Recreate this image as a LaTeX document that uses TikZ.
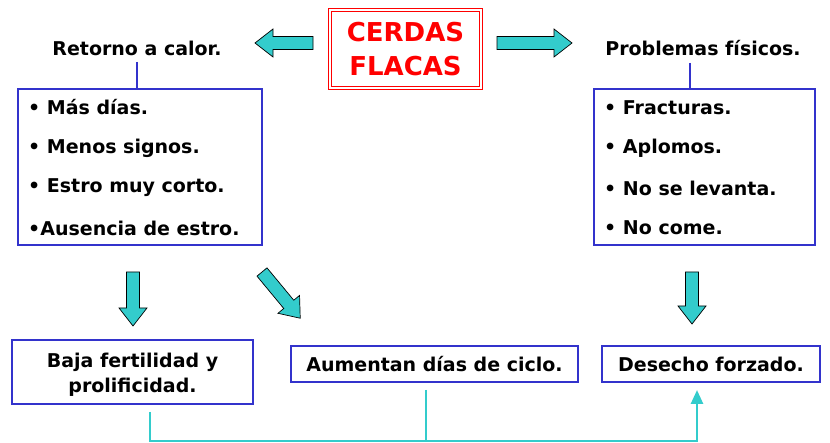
\documentclass[tikz,border=0pt]{standalone}
\usepackage{fontspec}
\setmainfont{DejaVu Sans}
\usetikzlibrary{arrows.meta}
\definecolor{bblue}{HTML}{3333CC}
\definecolor{rred}{HTML}{FF0000}
\definecolor{tteal}{HTML}{33CCCC}
\newcommand\blockarrow[4]{% name, tail point, angle, length
  \begin{scope}[shift={#2}, rotate=#3]
    \draw[barrow] (0,-6.5) -- ({#4-18},-6.5) -- ({#4-18},-14) -- (#4,0) -- ({#4-18},14) -- ({#4-18},6.5) -- (0,6.5) -- cycle;
    \coordinate (#1) at (#4,0);
  \end{scope}}
\begin{document}
\begin{tikzpicture}[x=1pt,y=-1pt,
  txt/.style={font=\bfseries\fontsize{19}{23}\selectfont, inner sep=0pt, text=black},
  box/.style={draw=bblue, line width=2pt, inner sep=0pt},
  barrow/.style={fill=tteal, draw=black, line width=0.7pt},
  link/.style={draw=bblue, line width=2pt},
  conn/.style={draw=tteal, line width=2.6pt}]
\useasboundingbox[fill=white] (0,0) rectangle (830,443);

% title
\node[draw=rred, line width=1pt, double=white, double distance=2pt,
      minimum width=151pt, minimum height=78pt, align=center,
      text=rred, font=\bfseries\fontsize{26}{34}\selectfont] (title) at (405.5,49) {CERDAS\\FLACAS};

% side arrows
\blockarrow{la}{(313,43)}{180}{58}
\blockarrow{ra}{(497,43)}{0}{75}

% headings
\node[txt] (ret) at (137,48) {Retorno a calor.};
\node[txt] (prob) at (703,48) {Problemas físicos.};

% boxes
\node[box, minimum width=244pt, minimum height=156pt] (lbox) at (140,167) {};
\node[box, minimum width=221pt, minimum height=156pt] (rbox) at (704.5,167) {};
\draw[link] (137,62) -- (137,89);
\draw[link] (690,63) -- (690,89);

\node[txt, anchor=west] (l1) at (28,107) {• Más días.};
\node[txt, anchor=west] (l2) at (28,148) {• Menos signos.};
\node[txt, anchor=west] (l3) at (28,188) {• Estro muy corto.};
\node[txt, anchor=west] (l4) at (28,228) {•Ausencia de estro.};

\node[txt, anchor=west] (r1) at (604,108) {• Fracturas.};
\node[txt, anchor=west] (r2) at (604,148) {• Aplomos.};
\node[txt, anchor=west] (r3) at (604,188) {• No se levanta.};
\node[txt, anchor=west] (r4) at (604,228) {• No come.};

% down arrows
\blockarrow{d1}{(133,272)}{-90}{54}
\blockarrow{d2}{(262,272)}{-50.4}{60}
\blockarrow{d3}{(692,272)}{-90}{52}

% bottom boxes
\node[box, minimum width=241pt, minimum height=64pt] (b1) at (132.5,372) {};
\node[txt, align=center, font=\bfseries\fontsize{19}{25}\selectfont] (b1t) at (132.5,375) {Baja fertilidad y\\prolificidad.};
\node[box, minimum width=287pt, minimum height=36pt, txt] (b2) at (434.5,364) {Aumentan días de ciclo.};
\node[box, minimum width=218pt, minimum height=36pt, txt] (b3) at (711,364) {Desecho forzado.};

% connector
\coordinate (c1) at (150,412);
\coordinate (c2) at (426,390);
\coordinate (c3) at (697,390);
\coordinate (jn) at (426,441);
\draw[conn, -{Triangle[width=12pt,length=14pt]}] (c1) |- (jn) -| (c3);
\draw[conn] (c2) -- (jn);
\end{tikzpicture}
\end{document}
